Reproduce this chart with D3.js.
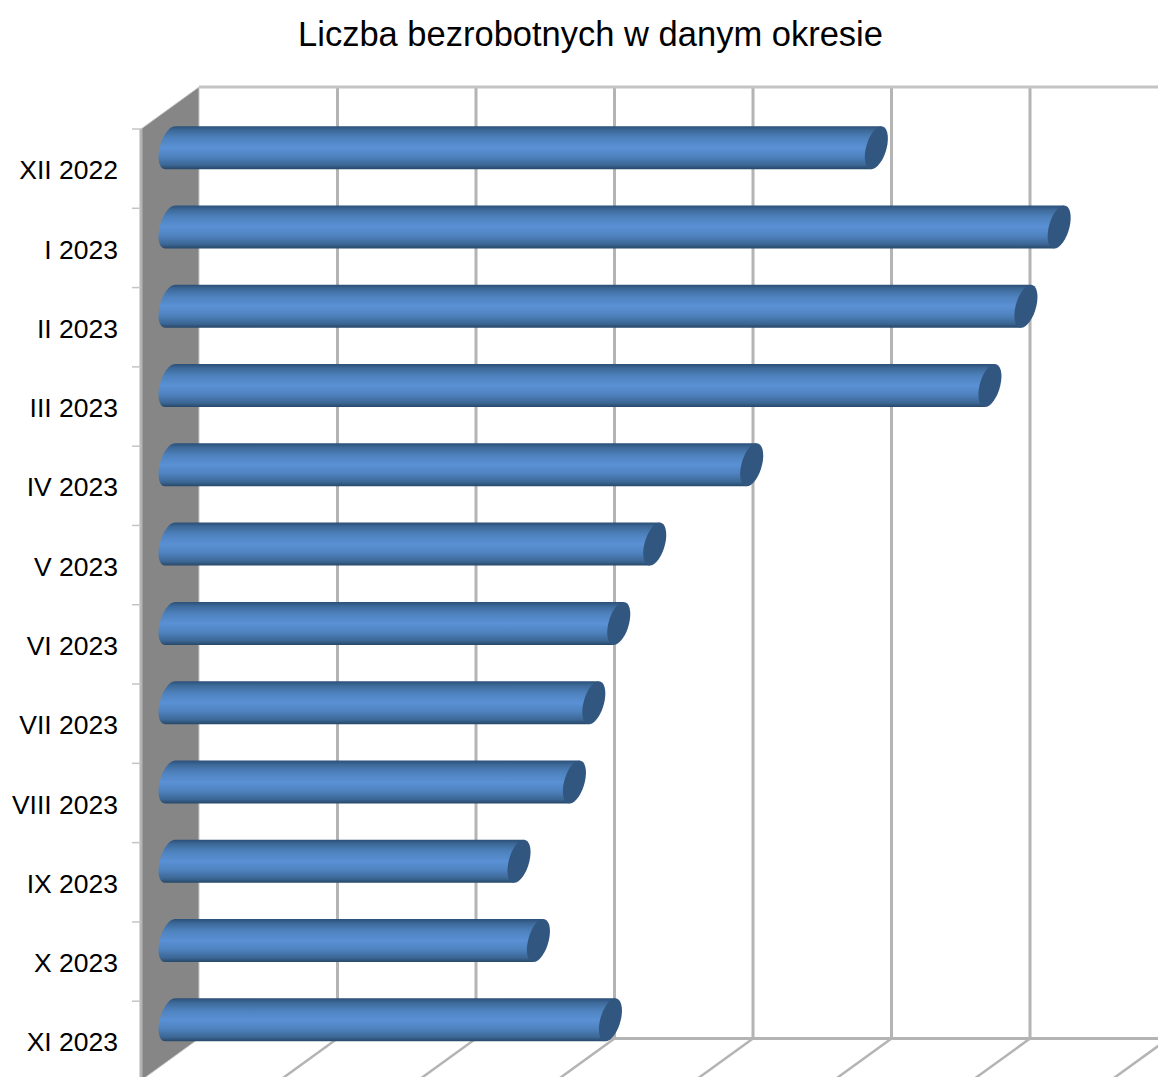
<!DOCTYPE html>
<html lang="pl">
<head>
<meta charset="utf-8">
<script src="https://cdn.jsdelivr.net/npm/d3@7"></script>
<style>
  body { margin: 0; background: #fff; overflow: hidden; }
  text { font-family: "Liberation Sans", Arial, sans-serif; fill: #000; }
</style>
</head>
<body>
<script>
const categories = ["XII 2022", "I 2023", "II 2023", "III 2023", "IV 2023", "V 2023",
  "VI 2023", "VII 2023", "VIII 2023", "IX 2023", "X 2023", "XI 2023"];
// axis labels are cut off in the picture, so values are in gridline units
const values = [5.1, 6.42, 6.18, 5.92, 4.2, 3.5, 3.24, 3.06, 2.92, 2.52, 2.66, 3.18];
const gridTicks = [0, 1, 2, 3, 4, 5, 6, 7];

const width = 1158;
const height = 1077;
const depthX = 58;
const depthY = 42;
const wallX = 199;
const wallTop = 87;
const wallBottom = 1038.5;
const gridColor = "#b4b4b4";
const barHeight = 43;
const capRx = 10.4;
const capSkew = -13;

const x = d3.scaleLinear().domain([0, 7]).range([wallX, wallX + 7 * 138.5]);
const y = d3.scaleBand().domain(categories).range([wallTop + depthY, wallBottom + depthY]);

const svg = d3.select("body").append("svg")
  .attr("width", width)
  .attr("height", height)
  .attr("viewBox", `0 0 ${width} ${height}`)
  .style("display", "block");

const defs = svg.append("defs");
const gradient = defs.append("linearGradient")
  .attr("id", "cylinder")
  .attr("x1", 0).attr("y1", 0).attr("x2", 0).attr("y2", 1);
[[0, "#2b4f78"], [0.1, "#3d6999"], [0.28, "#4e82be"], [0.5, "#5a91d5"], [0.7, "#4f83c0"], [0.9, "#3c6795"], [1, "#274868"]]
  .forEach(([offset, color]) => gradient.append("stop").attr("offset", offset).attr("stop-color", color));

svg.append("text")
  .attr("x", 590.5)
  .attr("y", 46)
  .attr("text-anchor", "middle")
  .attr("font-size", 34.5)
  .text("Liczba bezrobotnych w danym okresie");

// back wall and floor gridlines
const grid = svg.append("g").attr("stroke", gridColor).attr("fill", "none");

grid.selectAll("line.wall")
  .data(gridTicks.slice(1))
  .join("line")
  .attr("class", "wall")
  .attr("x1", (d) => x(d))
  .attr("x2", (d) => x(d))
  .attr("y1", wallTop)
  .attr("y2", wallBottom)
  .attr("stroke-width", 3);

grid.selectAll("line.floor")
  .data(gridTicks.slice(1))
  .join("line")
  .attr("class", "floor")
  .attr("x1", (d) => x(d))
  .attr("x2", (d) => x(d) - depthX)
  .attr("y1", wallBottom)
  .attr("y2", wallBottom + depthY)
  .attr("stroke-width", 2.5);

grid.append("line")
  .attr("x1", wallX).attr("x2", width)
  .attr("y1", wallTop).attr("y2", wallTop)
  .attr("stroke", "#c4c4c4")
  .attr("stroke-width", 3);

grid.append("line")
  .attr("x1", wallX).attr("x2", width)
  .attr("y1", wallBottom).attr("y2", wallBottom)
  .attr("stroke-width", 3);

// grey side wall
svg.append("path")
  .attr("d", d3.line()([
    [wallX, wallTop],
    [wallX - depthX, wallTop + depthY],
    [wallX - depthX, wallBottom + depthY],
    [wallX, wallBottom],
  ]) + "Z")
  .attr("fill", "#868686")
  .attr("stroke", "#c8c8c8")
  .attr("stroke-width", 1);

svg.append("line")
  .attr("x1", wallX - depthX).attr("x2", wallX - depthX)
  .attr("y1", wallTop + depthY).attr("y2", height)
  .attr("stroke", gridColor)
  .attr("stroke-width", 3);

// category ticks sit on the band edges, labels on the band centres
svg.append("g").selectAll("line")
  .data(categories)
  .join("line")
  .attr("x1", wallX - depthX - 9)
  .attr("x2", wallX - depthX)
  .attr("y1", (d) => y(d))
  .attr("y2", (d) => y(d))
  .attr("stroke", "#c4c4c4")
  .attr("stroke-width", 1.5);

const yAxis = d3.axisLeft(y).tickSize(0).tickPadding(0);
svg.append("g")
  .attr("transform", "translate(118 1.3)")
  .call(yAxis)
  .call((g) => g.select(".domain").remove())
  .selectAll("text")
  .attr("font-size", 26.5)
  .attr("font-family", null)
  .attr("dy", "0.35em");

// one skewed cylinder per category
const bars = svg.append("g").selectAll("g")
  .data(categories.map((c, i) => ({ category: c, value: values[i] })))
  .join("g")
  .attr("transform", (d) =>
    `translate(${x(0) - depthX / 2} ${y(d.category) + y.bandwidth() / 2 - depthY / 2}) skewX(${capSkew})`);

const ry = barHeight / 2;

bars.append("path")
  .attr("fill", "url(#cylinder)")
  .attr("d", (d) => {
    const w = x(d.value) - x(0);
    return `M${w},${-ry}L0,${-ry}A${capRx},${ry} 0 0 0 0,${ry}L${w},${ry}Z`;
  });

bars.append("ellipse")
  .attr("cx", (d) => x(d.value) - x(0))
  .attr("rx", capRx)
  .attr("ry", ry)
  .attr("fill", "#31567f");
</script>
</body>
</html>
